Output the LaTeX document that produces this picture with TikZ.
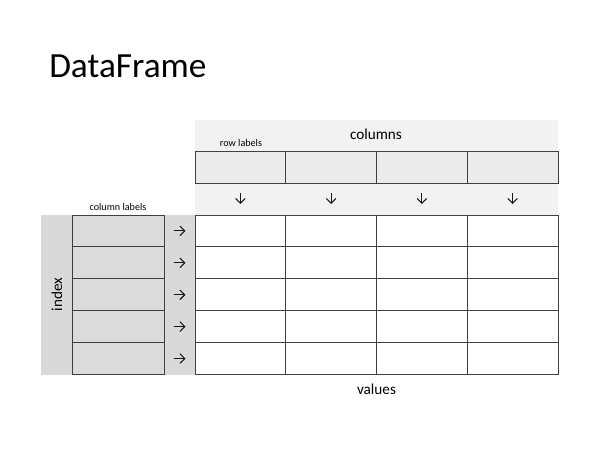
\documentclass[tikz,border=0pt]{standalone}
\usetikzlibrary{arrows.meta}
\usepackage{fontspec}
\setmainfont{Carlito}
\begin{document}
\begin{tikzpicture}[x=0.75pt,y=-0.75pt,
  grid/.style={draw=black!75, line width=0.75pt},
  lbl/.style={inner sep=0pt, font=\fontsize{11.4}{13}\selectfont},
  small/.style={inner sep=0pt, font=\fontsize{7.6}{9}\selectfont},
  glyph/.style={draw=black!90, line width=0.8pt,
    -{Straight Barb[length=3.6pt, width=7.2pt, line width=0.8pt]}}]
\useasboundingbox (0,0) rectangle (600,450);
% title
\node[anchor=base west, inner sep=0pt, font=\fontsize{26.5}{30}\selectfont] (title) at (49,77) {DataFrame};
% header band above the columns
\fill[black!5] (195,120) rectangle (558,215);
\fill[black!8] (195,151.5) rectangle (558,183.5);
\foreach \i in {0,...,3} {
  \draw[grid] ({195+\i*90.75},151.5) rectangle ({195+(\i+1)*90.75},183.5);
  \coordinate (down\i) at ({195+(\i+0.5)*90.75},198.5);
}
\node[lbl, anchor=base] (columns) at (376,139) {columns};
\node[small, anchor=base] (rowlabels) at (241,146) {row labels};
% index band on the left
\fill[black!15] (41,215) rectangle (195,374.5);
\fill[black!14] (72.5,215) rectangle (164,374.5);
\foreach \j in {0,...,4} {
  \draw[grid] (72.5,{215+\j*31.9}) rectangle (164,{215+(\j+1)*31.9});
  \coordinate (right\j) at (179.5,{215+(\j+0.5)*31.9});
}
\node[small, anchor=base] (collabels) at (118,210) {column labels};
\node[lbl, rotate=90] (index) at (57,294.5) {index};
% values grid
\fill[white] (195,215) rectangle (558,374.5);
\foreach \i in {0,...,3} \foreach \j in {0,...,4}
  \draw[grid] ({195+\i*90.75},{215+\j*31.9}) rectangle ({195+(\i+1)*90.75},{215+(\j+1)*31.9});
\node[lbl, anchor=base] (values) at (376.5,394) {values};
% arrow marks: labels map onto the values
\foreach \i in {0,...,3}
  \draw[glyph] ([yshift=4.2pt]down\i) -- ([yshift=-4.2pt]down\i);
\foreach \j in {0,...,4}
  \draw[glyph] ([xshift=-4.5pt]right\j) -- ([xshift=4.5pt]right\j);
\end{tikzpicture}
\end{document}
